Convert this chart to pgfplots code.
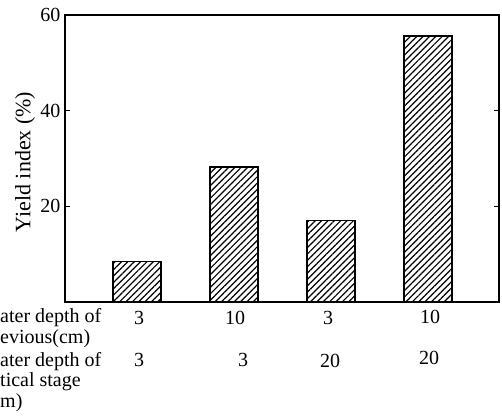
\documentclass[border=0pt]{standalone}
\usepackage{pgfplots}
\pgfplotsset{compat=1.18}
\usetikzlibrary{patterns.meta}
\usepackage{fontspec}
\setmainfont{Liberation Serif}
\begin{document}
\begin{tikzpicture}[x=1bp,y=1bp]
\useasboundingbox (0,0) rectangle (502,415);
\clip (0,0) rectangle (502,415);
\begin{axis}[
  at={(65bp,113bp)}, anchor=south west,
  scale only axis, width=434bp, height=287bp,
  xmin=0.258, xmax=4.732, ymin=0, ymax=60,
  xtick=\empty,
  ytick={20,40,60},
  ytick pos=both, yticklabel pos=left,
  tick align=inside, major tick length=5bp,
  tick style={line width=1.2bp, black},
  axis line style={line width=1.3bp},
  /pgf/number format/assume math mode=true,
  tick label style={font=\fontsize{20bp}{22bp}\selectfont},
  ylabel={Yield index (\%)},
  ylabel style={font=\fontsize{22bp}{24bp}\selectfont, at={(-40bp,140bp)}, anchor=center, rotate=0},
  yticklabel style={xshift=-1bp},
  clip=false,
]
\addplot[ybar, bar width=48bp, draw=black, line width=1.4bp,
  pattern={Lines[angle=45,distance=4.5bp,line width=1.2bp]}, pattern color=black]
  coordinates {(1,8.5) (2,28.2) (3,17.1) (4,55.6)};
\end{axis}
\begin{scope}[every node/.style={font=\fontsize{20bp}{22bp}\selectfont, inner sep=0pt}]
\node[anchor=west] at (0,97) {ater depth of};
\node[anchor=west] at (0,76) {evious(cm)};
\node[anchor=west] at (0,53) {ater depth of};
\node[anchor=west] at (0,33) {tical stage};
\node[anchor=west] at (0,12) {m)};
\node at (139,97) {3};
\node at (235,97) {10};
\node at (328,97) {3};
\node at (430,98) {10};
\node at (139,55) {3};
\node at (243,55) {3};
\node at (330,54) {20};
\node at (429,57) {20};
\end{scope}
\end{tikzpicture}
\end{document}
